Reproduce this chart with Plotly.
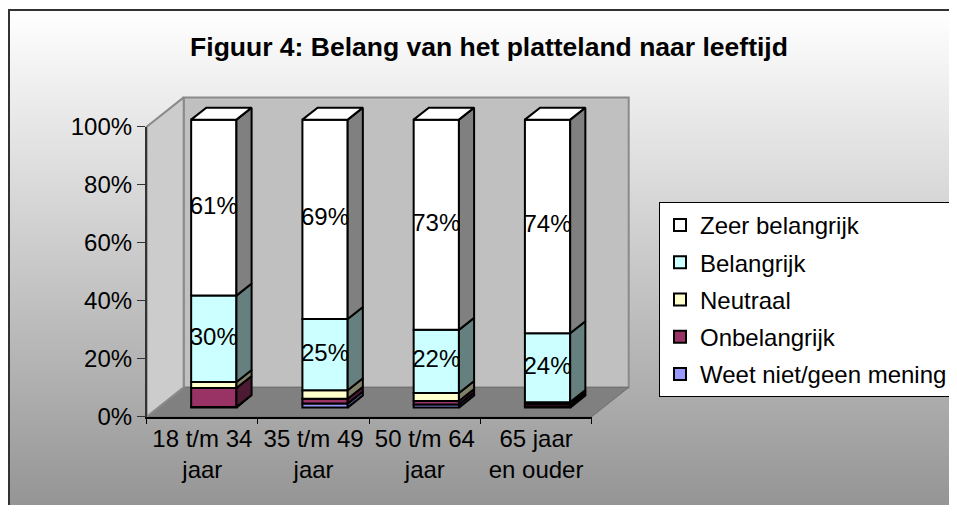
import plotly.graph_objects as go

# ---------------- data ----------------
categories = ["18 t/m 34<br>jaar", "35 t/m 49<br>jaar", "50 t/m 64<br>jaar", "65 jaar<br>en ouder"]
# stacked bottom -> top
series_names = ["Weet niet/geen mening", "Onbelangrijk", "Neutraal", "Belangrijk", "Zeer belangrijk"]
weet_niet = [0.2, 1.4, 1.1, 0.5]
onbelangrijk = [6.6, 1.7, 1.2, 0.8]
neutraal = [2.1, 2.9, 2.8, 0.6]
belangrijk = [30.0, 24.8, 21.9, 23.9]
zeer_belangrijk = [61.1, 69.2, 73.0, 74.2]
y_tick_values = [0, 20, 40, 60, 80, 100]
y_tick_labels = [f"{v}%" for v in y_tick_values]
labelled_series = ["Belangrijk", "Zeer belangrijk"]
title_text = "Figuur 4: Belang van het platteland naar leeftijd"

series_values = [weet_niet, onbelangrijk, neutraal, belangrijk, zeer_belangrijk]

# ---------------- style ----------------
face_colors = ["#9999FF", "#993366", "#FFFFCC", "#CCFFFF", "#FFFFFF"]
side_colors = ["#4D4D80", "#4D1A33", "#808066", "#668080", "#808080"]
FONT = "Liberation Sans, Arial, sans-serif"

VW, VH = 957, 513          # browser window
BODY = 8                   # default page margin around the plot div
W, H = VW - BODY, VH - 2 * BODY

def px_x(px):              # window pixel -> paper fraction
    return (px - BODY) / W

def px_y(py):
    return 1 - (py - BODY) / H

# front plane of the 3-D box (window pixels)
AX_L, AX_R = 146.7, 591.7
AX_B, AX_T = 416.7, 126.7
n = len(categories)
cat_px = (AX_R - AX_L) / n
pct_px = (AX_B - AX_T) / (y_tick_values[-1] - y_tick_values[0])

def xr(px):
    return (px - AX_L) / cat_px - 0.5

def yr(py):
    return (AX_B - py) / pct_px

# depth vector (axis units)
DX = 37.0 / cat_px
DY = 29.3 / pct_px
BW = 0.407          # bar width (categories)
F_FRONT, F_BACK = 0.31, 0.72
S = 0.993           # perspective scale of the bars
FX, FY = F_FRONT * DX, F_FRONT * DY
BX, BY = (F_BACK - F_FRONT) * DX, (F_BACK - F_FRONT) * DY

# drawing area (window pixels)
DL, DR, DT, DB = 136, 648, 88, 428
draw_xrange = [xr(DL), xr(DR)]
draw_yrange = [yr(DB), yr(DT)]

fig = go.Figure()

# ---------------- background gradient ----------------
fig.add_trace(go.Scatter(
    x=[0, 1, 1, 0, 0], y=[0, 0, 1, 1, 0], mode="none", fill="toself",
    fillgradient=dict(type="vertical", colorscale=[[0, "#959595"], [1, "#ffffff"]]),
    xaxis="x", yaxis="y", showlegend=False, hoverinfo="skip"))

# ---------------- walls & floor ----------------
x_lo, x_hi = -0.5, n - 0.5
y_lo, y_hi = y_tick_values[0], y_tick_values[-1]
wall_line = dict(color="#8a8a8a", width=2)
fig.add_trace(go.Scatter(
    x=[x_lo + DX, x_hi + DX, x_hi + DX, x_lo + DX, x_lo + DX],
    y=[y_lo + DY, y_lo + DY, y_hi + DY, y_hi + DY, y_lo + DY],
    mode="lines", fill="toself", fillcolor="#c0c0c0", line=wall_line,
    xaxis="x2", yaxis="y2", showlegend=False, hoverinfo="skip"))
fig.add_trace(go.Scatter(
    x=[x_lo, x_hi, x_hi + DX, x_lo + DX, x_lo],
    y=[y_lo, y_lo, y_lo + DY, y_lo + DY, y_lo],
    mode="lines", fill="toself", fillcolor="#808080", line=dict(color="#707070", width=1),
    xaxis="x2", yaxis="y2", showlegend=False, hoverinfo="skip"))
fig.add_trace(go.Scatter(
    x=[x_lo, x_lo + DX, x_lo + DX, x_lo, x_lo],
    y=[y_lo, y_lo + DY, y_hi + DY, y_hi, y_lo],
    mode="lines", fill="toself", fillcolor="#cccccc", line=wall_line,
    xaxis="x2", yaxis="y2", showlegend=False, hoverinfo="skip"))

# ---------------- bars ----------------
cum = [0.0] * n
bar_x = [i + FX for i in range(n)]
label_x, label_y, label_t = [], [], []
n_series = len(series_names)
for k, (name, vals) in enumerate(zip(series_names, series_values)):
    base = [FY + S * c for c in cum]
    tops = [FY + S * (c + v) for c, v in zip(cum, vals)]
    fig.add_trace(go.Bar(
        x=bar_x, y=[S * v for v in vals], base=base, width=BW,
        marker=dict(color=face_colors[k], line=dict(color="black", width=2)),
        name=name, xaxis="x3", yaxis="y3", hoverinfo="skip",
        legendgroup=name, legendrank=n_series - k))
    # side faces
    sx, sy = [], []
    for i in range(n):
        xr_ = bar_x[i] + BW / 2
        sx += [xr_, xr_ + BX, xr_ + BX, xr_, xr_, None]
        sy += [base[i], base[i] + BY, tops[i] + BY, tops[i], base[i], None]
    fig.add_trace(go.Scatter(
        x=sx, y=sy, mode="lines", fill="toself", fillcolor=side_colors[k],
        line=dict(color="black", width=2), xaxis="x3", yaxis="y3",
        showlegend=False, hoverinfo="skip"))
    if name in labelled_series:
        for i in range(n):
            label_x.append(bar_x[i])
            label_y.append((base[i] + tops[i]) / 2)
            label_t.append(f"{round(vals[i])}%")
    cum = [c + v for c, v in zip(cum, vals)]

# top faces
tx, ty = [], []
for i in range(n):
    top = FY + S * cum[i]
    xl_, xr_ = bar_x[i] - BW / 2, bar_x[i] + BW / 2
    tx += [xl_, xl_ + BX, xr_ + BX, xr_, xl_, None]
    ty += [top, top + BY, top + BY, top, top, None]
fig.add_trace(go.Scatter(
    x=tx, y=ty, mode="lines", fill="toself", fillcolor=face_colors[-1],
    line=dict(color="black", width=2), xaxis="x3", yaxis="y3",
    showlegend=False, hoverinfo="skip"))

# data labels
fig.add_trace(go.Scatter(
    x=label_x, y=label_y, text=label_t, mode="text",
    textfont=dict(family=FONT, size=24, color="black"), cliponaxis=False,
    xaxis="x3", yaxis="y3", showlegend=False, hoverinfo="skip"))

# axis anchor trace (invisible)
fig.add_trace(go.Scatter(
    x=categories, y=[None] * n, mode="markers", marker=dict(opacity=0),
    xaxis="x4", yaxis="y4", showlegend=False, hoverinfo="skip"))

# ---------------- layout ----------------
hidden = dict(visible=False, showgrid=False, zeroline=False, fixedrange=True,
              automargin=False)
frame = dict(showline=True, mirror=False, linecolor="#333333", linewidth=2,
             showgrid=False, zeroline=False, showticklabels=False, ticks="",
             range=[0, 1], fixedrange=True, automargin=False)
draw_xdom = [px_x(DL), px_x(DR)]
draw_ydom = [px_y(DB), px_y(DT)]

fig.update_layout(
    template="none",
    width=W, height=H, autosize=False,
    margin=dict(l=0, r=0, t=0, b=0, pad=0, autoexpand=False),
    paper_bgcolor="white", plot_bgcolor="rgba(0,0,0,0)",
    barmode="overlay", hovermode=False, showlegend=True,
    font=dict(family=FONT, size=24, color="black"),
    title=dict(text=title_text, x=px_x(489), xanchor="center", y=px_y(47),
               yanchor="middle", xref="paper", yref="paper",
               font=dict(family=FONT, size=26.5, color="black", weight="bold")),
    xaxis=dict(domain=[px_x(10), 1], anchor="y", side="top", **frame),
    yaxis=dict(domain=[0, px_y(11)], anchor="x", side="left", **frame),
    xaxis2=dict(domain=draw_xdom, range=draw_xrange, anchor="y2", **hidden),
    yaxis2=dict(domain=draw_ydom, range=draw_yrange, anchor="x2", **hidden),
    xaxis3=dict(domain=draw_xdom, range=draw_xrange, anchor="y3", **hidden),
    yaxis3=dict(domain=draw_ydom, range=draw_yrange, anchor="x3", **hidden),
    xaxis4=dict(domain=[px_x(AX_L), px_x(AX_R)], anchor="y4", type="category",
                categoryorder="array", categoryarray=categories,
                range=[-0.5, n - 0.5], tickson="boundaries", ticks="outside",
                ticklen=6, tickcolor="black", showline=True, linecolor="black",
                linewidth=1.5, showgrid=False, zeroline=False, fixedrange=True,
                automargin=False,
                tickfont=dict(family=FONT, size=24, color="black")),
    yaxis4=dict(domain=[px_y(AX_B), px_y(AX_T)], anchor="x4",
                range=[y_lo, y_hi], tickmode="array", tickvals=y_tick_values,
                ticktext=y_tick_labels, ticks="outside", ticklen=8,
                tickcolor="#333333", showline=True, linecolor="#333333",
                linewidth=1.5, showgrid=False, zeroline=False, fixedrange=True,
                automargin=False,
                tickfont=dict(family=FONT, size=24, color="black")),
    legend=dict(x=px_x(659), y=px_y(202), xanchor="left", yanchor="top",
                bgcolor="white", bordercolor="black", borderwidth=1,
                traceorder="grouped", tracegroupgap=3,
                font=dict(family=FONT, size=24, color="black")),
)

fig.write_html("out.html")
